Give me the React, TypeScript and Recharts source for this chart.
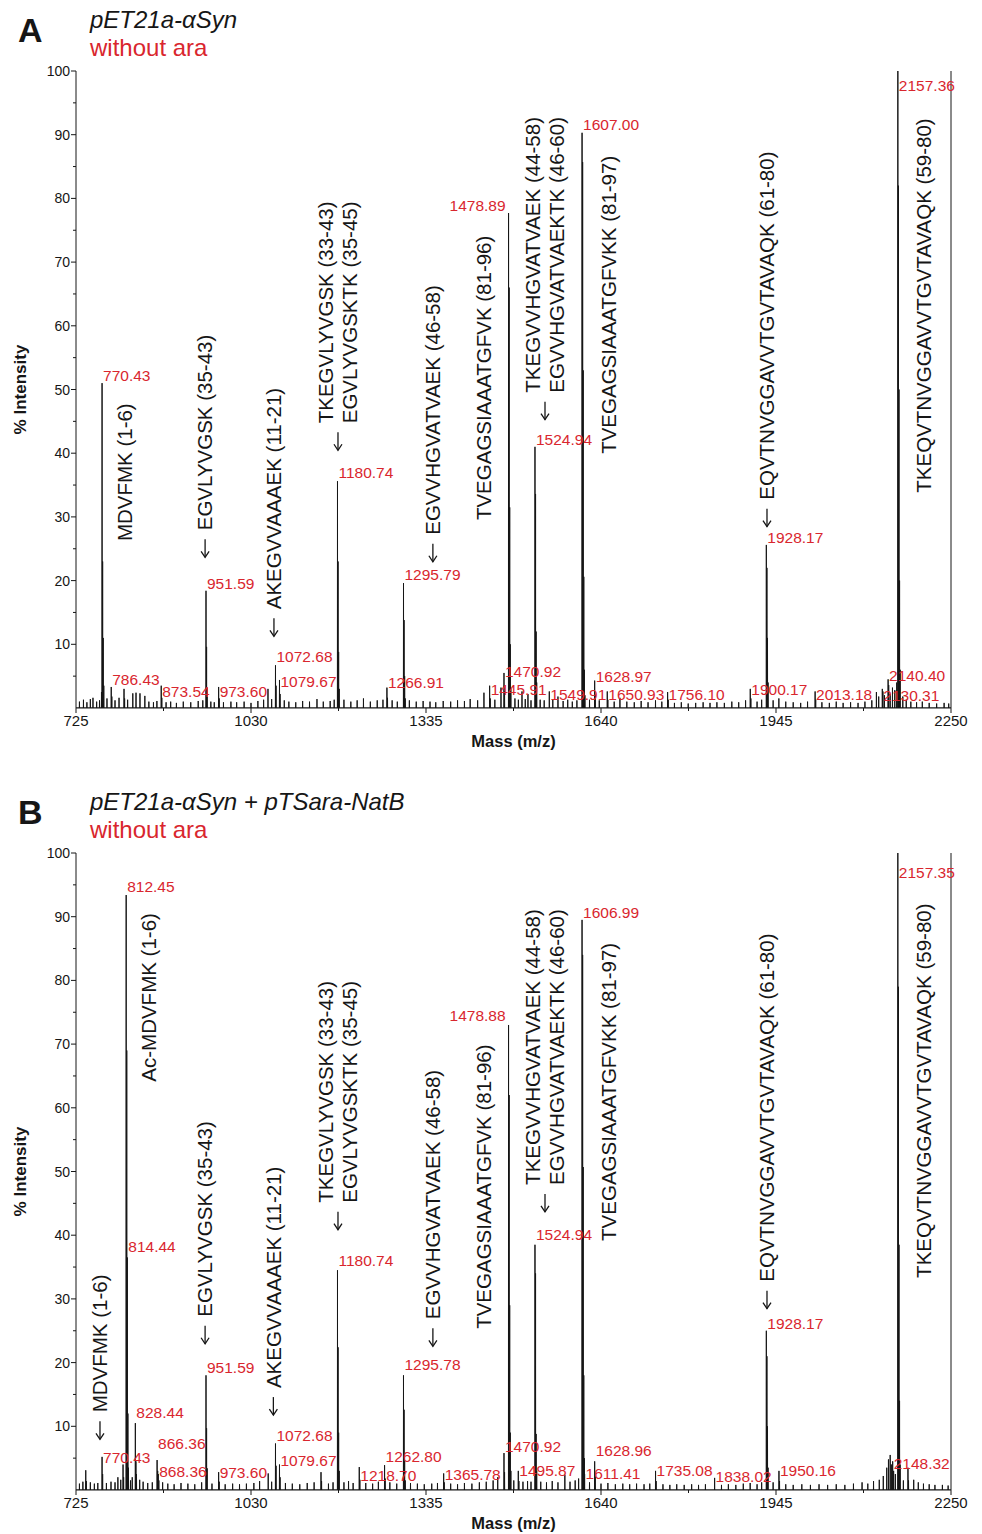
import React from 'react';
import {
  ComposedChart,
  Line,
  XAxis,
  YAxis,
  ReferenceDot,
  ReferenceLine,
  Label,
} from 'recharts';

const FONT = "'Liberation Sans', Arial, Helvetica, sans-serif";
const RED = '#d9262e';
const INK = '#161616';

// x axis: m/z
const mzDomain: [number, number] = [725, 2250];
const mzTicks = [725, 877.5, 1030, 1182.5, 1335, 1487.5, 1640, 1792.5, 1945, 2097.5, 2250];
const mzMajor = [725, 1030, 1335, 1640, 1945, 2250];
// y axis: % intensity
const intTicks = [5, 10, 15, 20, 25, 30, 35, 40, 45, 50, 55, 60, 65, 70, 75, 80, 85, 90, 95, 100];

// panel A: pET21a-aSyn, without ara  -> [m/z, % intensity]
const peaksA: [number, number][] = [
  [731, 1.0], [738, 1.3], [744, 0.9], [750, 1.4], [754.6, 1.6], [761, 1.0], [766, 1.2],
  [769.4, 2.5], [770.43, 51], [771.43, 23], [772.43, 11], [773.44, 3.5],
  [779, 1.5], [786.43, 3.3], [787.43, 1.8], [793, 1.2], [800, 1.6], [808.7, 3.0], [809.7, 1.5],
  [815, 1.3], [824, 2.3], [829.6, 2.4], [836.5, 2.3], [845, 1.9], [852, 1.0], [860, 0.9], [866, 1.1],
  [873.54, 3.5], [874.54, 1.6], [882, 0.9], [890, 1.0], [900, 0.8], [912, 1.0], [925, 0.9], [938, 1.1], [946, 1.2],
  [951.59, 18.4], [952.59, 9.6], [953.59, 3.2],
  [960, 1.0], [966, 0.9], [973.6, 3.3], [974.6, 1.5], [982, 0.9], [995, 1.0], [1005, 0.9], [1018, 1.0],
  [1030, 0.8], [1042, 1.1], [1052, 1.3], [1059.6, 3.0], [1066, 1.4],
  [1072.68, 6.7], [1073.68, 3.5], [1079.67, 4.4], [1080.67, 2.2],
  [1088, 1.2], [1096, 1.0], [1108, 0.9], [1120, 1.1], [1132, 1.0], [1145, 1.4], [1156, 1.0], [1168, 1.1], [1175, 1.3],
  [1180.74, 35.6], [1181.74, 23], [1182.74, 8.8], [1183.74, 3],
  [1192, 1.3], [1204, 1.0], [1215, 1.2], [1226, 1.5], [1238, 1.0], [1250, 1.2], [1260, 1.3],
  [1266.91, 3.2], [1267.91, 1.6], [1276, 1.2], [1285, 1.0],
  [1295.79, 19.6], [1296.79, 13.8], [1297.79, 5], [1298.8, 1.5],
  [1306, 1.2], [1318, 1.0], [1330, 1.1], [1342, 1.0], [1352, 0.9], [1365, 1.1], [1378, 1.0], [1390, 1.2],
  [1402, 1.1], [1412, 1.4], [1425, 1.2], [1436, 2.4], [1445.91, 3.5], [1446.9, 1.5], [1455, 1.3],
  [1465.7, 3.2], [1470.92, 5.5], [1471.92, 2.6],
  [1478.89, 77.7], [1479.89, 66], [1480.89, 31.5], [1481.89, 10], [1482.9, 3],
  [1490, 1.5], [1496, 1.3], [1502.3, 2.6], [1508, 1.4], [1512.7, 2.2], [1518, 1.2],
  [1524.94, 41], [1525.94, 33.6], [1526.94, 12], [1527.94, 4],
  [1534, 1.3], [1541, 1.2], [1549.91, 2.6], [1556, 1.3], [1565, 1.8], [1574, 1.1], [1582, 1.3], [1590, 1.0], [1598, 1.2],
  [1607.0, 90.3], [1608.0, 85.7], [1609.0, 53], [1610.0, 20.6], [1611.0, 6], [1612, 2],
  [1620, 1.3], [1628.97, 4.3], [1629.97, 2], [1637, 1.2], [1650.93, 2.6], [1651.93, 1.3], [1663, 1.0],
  [1673, 1.6], [1685, 1.0], [1698, 0.9], [1710, 1.1], [1722, 0.9], [1735, 1.2], [1746, 1.0],
  [1756.1, 2.5], [1757.1, 1.3], [1768, 0.8], [1780, 0.9], [1792, 0.7], [1805, 0.8], [1818, 0.9], [1830, 0.8],
  [1842, 0.9], [1855, 0.8], [1868, 1.0], [1880, 0.9], [1892, 1.2], [1900.17, 3.0], [1901.17, 1.5], [1912, 1.0], [1920, 1.3],
  [1928.17, 25.6], [1929.17, 22], [1930.17, 11], [1931.17, 4],
  [1940, 1.2], [1950, 1.5], [1962, 1.0], [1975, 0.9], [1988, 0.8], [2000, 1.0], [2013.18, 2.6], [2014.18, 1.3],
  [2025, 0.9], [2038, 0.8], [2050, 1.0], [2062, 0.8], [2075, 0.9], [2088, 0.8], [2100, 1.0], [2112, 1.2],
  [2120, 2.5], [2124, 1.8], [2130.31, 3.0], [2131.31, 2.6], [2134, 2.0], [2140.4, 4.5], [2141.4, 3.6],
  [2144, 2.2], [2148, 3.2], [2152, 2.8], [2155.4, 4],
  [2157.36, 100], [2158.36, 82], [2159.36, 50], [2160.36, 20], [2161.4, 6],
  [2166, 1.8], [2172, 1.3], [2180, 1.0], [2190, 0.9], [2200, 1.0], [2212, 0.8], [2225, 0.7], [2238, 0.8], [2246, 0.7],
];

// panel B: pET21a-aSyn + pTSara-NatB, without ara
const peaksB: [number, number][] = [
  [731, 1.0], [737, 1.3], [742, 3.1], [743, 1.4], [750, 1.2], [757, 1.0], [763, 1.1],
  [770.43, 5.2], [771.43, 2.5], [778, 1.1], [786, 1.3], [793, 1.2], [798, 2.0], [803, 1.6], [807, 4.0], [808, 2.0],
  [812.45, 93.4], [813.45, 69], [814.44, 36.5], [815.44, 12], [816.44, 3.5],
  [820, 1.5], [823, 2.0], [828.44, 10.5], [829.44, 4.5], [830.44, 2.5], [836, 1.6], [842, 1.3], [850, 1.1], [858, 1.2],
  [866.36, 4.7], [867.36, 3.0], [868.36, 2.5], [869.36, 1.5], [876, 1.2], [885, 1.0], [896, 0.9], [908, 1.1],
  [920, 1.0], [932, 0.9], [944, 1.2],
  [951.59, 18], [952.59, 9.7], [953.59, 3.4],
  [962, 1.0], [973.6, 2.8], [974.6, 1.3], [985, 0.9], [998, 1.0], [1010, 0.9], [1022, 1.0], [1035, 1.1],
  [1045, 1.4], [1060, 2.6], [1066, 1.3],
  [1072.68, 7.3], [1073.68, 3.8], [1079.67, 4.0], [1080.67, 2.0],
  [1090, 1.1], [1102, 1.0], [1115, 0.9], [1128, 1.1], [1140, 1.2], [1152, 2.8], [1153, 1.4], [1165, 1.0], [1173, 1.2],
  [1180.74, 34.5], [1181.74, 22.4], [1182.74, 9], [1183.74, 3],
  [1192, 1.2], [1200, 1.4], [1208, 1.1], [1218.7, 3.6], [1219.7, 1.6], [1230, 1.1], [1242, 1.0], [1252, 1.3],
  [1262.8, 3.9], [1263.8, 1.8], [1272, 1.2], [1284, 1.0],
  [1295.78, 18], [1296.78, 12.6], [1297.78, 4.5], [1298.8, 1.5],
  [1308, 1.1], [1320, 1.0], [1332, 0.9], [1345, 1.0], [1355, 1.1], [1365.78, 2.6], [1366.78, 1.2], [1378, 1.0],
  [1390, 0.9], [1402, 1.1], [1415, 1.0], [1428, 1.2], [1440, 1.3], [1452, 1.5], [1460, 2.0],
  [1470.92, 5.8], [1471.92, 2.8],
  [1478.88, 73], [1479.88, 62], [1480.88, 29], [1481.88, 9], [1482.9, 3],
  [1488, 1.5], [1495.87, 3.0], [1496.87, 1.4], [1504, 1.3], [1512, 1.4], [1518, 1.3],
  [1524.94, 38.5], [1525.94, 34], [1526.94, 8.8], [1527.94, 3],
  [1535, 1.3], [1545, 1.2], [1555, 1.4], [1565, 1.2], [1577, 2.4], [1586, 1.3], [1595, 1.5], [1601, 1.8],
  [1606.99, 89.5], [1607.99, 84], [1608.99, 50.7], [1609.99, 18], [1610.99, 5], [1611.41, 2.5],
  [1620, 1.2], [1628.96, 4.5], [1629.96, 2.1], [1640, 1.0], [1652, 1.1], [1665, 0.9], [1678, 1.0], [1690, 0.9],
  [1702, 1.0], [1715, 0.9], [1725, 1.0], [1735.08, 3.0], [1736.08, 1.4], [1748, 0.9], [1760, 0.8], [1772, 0.9],
  [1785, 0.8], [1798, 0.9], [1810, 0.8], [1822, 0.9], [1838.02, 1.9], [1850, 0.8], [1862, 0.9], [1875, 0.8],
  [1888, 1.0], [1900, 1.1], [1912, 0.9], [1920, 1.2],
  [1928.17, 25], [1929.17, 21], [1930.17, 10], [1931.17, 3.5],
  [1940, 1.2], [1950.16, 3.0], [1951.16, 1.4], [1962, 0.9], [1975, 0.8], [1990, 0.9], [2005, 0.8], [2020, 0.9],
  [2035, 0.8], [2050, 0.9], [2065, 0.8], [2080, 1.0], [2095, 1.2], [2105, 1.0], [2115, 1.4], [2125, 1.6],
  [2132, 2.2], [2138, 3.5], [2141, 4.8], [2144, 5.5], [2146, 4.0], [2148.32, 4.5], [2150, 3.0], [2153, 2.5],
  [2157.35, 100], [2158.35, 79], [2159.35, 38.5], [2160.35, 14], [2161.4, 4],
  [2167, 1.5], [2175, 3.5], [2176, 1.5], [2185, 1.6], [2193, 1.2], [2202, 1.0], [2212, 0.9], [2222, 0.8],
  [2235, 0.8], [2245, 0.7],
];

// red m/z labels: text, baseline level, and whether the text sits left of its peak
const mzLabelsA = [
  { text: '770.43', level: 51.3 }, { text: '786.43', level: 3.6 }, { text: '873.54', level: 1.7 },
  { text: '951.59', level: 18.7 }, { text: '973.60', level: 1.7 }, { text: '1072.68', level: 7.2 },
  { text: '1079.67', level: 3.3 }, { text: '1180.74', level: 36.1 }, { text: '1266.91', level: 3.1 },
  { text: '1295.79', level: 20.1 }, { text: '1445.91', level: 2.0 }, { text: '1470.92', level: 4.9 },
  { text: '1478.89', level: 78.0, left: true }, { text: '1524.94', level: 41.3 }, { text: '1549.91', level: 1.3 },
  { text: '1607.00', level: 90.7 }, { text: '1628.97', level: 4.1 }, { text: '1650.93', level: 1.3 },
  { text: '1756.10', level: 1.3 }, { text: '1900.17', level: 2.0 }, { text: '1928.17', level: 25.9 },
  { text: '2013.18', level: 1.3 }, { text: '2130.31', level: 1.1 }, { text: '2140.40', level: 4.2 },
  { text: '2157.36', level: 96.8 },
];

const mzLabelsB = [
  { text: '770.43', level: 4.2 }, { text: '812.45', level: 93.9 }, { text: '814.44', level: 37.4 },
  { text: '828.44', level: 11.3 }, { text: '866.36', level: 6.4 }, { text: '868.36', level: 2.0 },
  { text: '951.59', level: 18.4 }, { text: '973.60', level: 1.9 }, { text: '1072.68', level: 7.7 },
  { text: '1079.67', level: 3.8 }, { text: '1180.74', level: 35.2 }, { text: '1218.70', level: 1.4 },
  { text: '1262.80', level: 4.4 }, { text: '1295.78', level: 18.8 }, { text: '1365.78', level: 1.6 },
  { text: '1470.92', level: 6.0 }, { text: '1478.88', level: 73.6, left: true }, { text: '1495.87', level: 2.2 },
  { text: '1524.94', level: 39.2 }, { text: '1606.99', level: 89.8 }, { text: '1611.41', level: 1.7 },
  { text: '1628.96', level: 5.3 }, { text: '1735.08', level: 2.2 }, { text: '1838.02', level: 1.3 },
  { text: '1928.17', level: 25.3 }, { text: '1950.16', level: 2.2 }, { text: '2148.32', level: 3.3 },
  { text: '2157.35', level: 96.1 },
];

// peptide assignments: rotated text, anchored at (m/z, intensity) of the text foot
const peptidesA = [
  { lines: ['MDVFMK (1-6)'], mz: 810, at: 26.2, arrow: false },
  { lines: ['EGVLYVGSK (35-43)'], mz: 950, at: 27.9, arrow: true },
  { lines: ['AKEGVVAAAEK (11-21)'], mz: 1070, at: 15.5, arrow: true },
  { lines: ['TKEGVLYVGSK (33-43)', 'EGVLYVGSKTK (35-45)'], mz: 1181.6, at: 44.7, arrow: true },
  { lines: ['EGVVHGVATVAEK (46-58)'], mz: 1347, at: 27.2, arrow: true },
  { lines: ['TVEGAGSIAAATGFVK (81-96)'], mz: 1436, at: 29.5, arrow: false },
  { lines: ['TKEGVVHGVATVAEK (44-58)', 'EGVVHGVATVAEKTK (46-60)'], mz: 1542.4, at: 49.5, arrow: true },
  { lines: ['TVEGAGSIAAATGFVKK (81-97)'], mz: 1654, at: 39.9, arrow: false },
  { lines: ['EQVTNVGGAVVTGVTAVAQK (61-80)'], mz: 1929.3, at: 32.7, arrow: true },
  { lines: ['TKEQVTNVGGAVVTGVTAVAQK (59-80)'], mz: 2203, at: 33.8, arrow: false },
];

const peptidesB = [
  { lines: ['MDVFMK (1-6)'], mz: 766.8, at: 12.2, arrow: true },
  { lines: ['Ac-MDVFMK (1-6)'], mz: 852.2, at: 64.1, arrow: false },
  { lines: ['EGVLYVGSK (35-43)'], mz: 950, at: 27.2, arrow: true },
  { lines: ['AKEGVVAAAEK (11-21)'], mz: 1069, at: 16.0, arrow: true },
  { lines: ['TKEGVLYVGSK (33-43)', 'EGVLYVGSKTK (35-45)'], mz: 1181.6, at: 45.1, arrow: true },
  { lines: ['EGVVHGVATVAEK (46-58)'], mz: 1347, at: 26.8, arrow: true },
  { lines: ['TVEGAGSIAAATGFVK (81-96)'], mz: 1436, at: 25.3, arrow: false },
  { lines: ['TKEGVVHGVATVAEK (44-58)', 'EGVVHGVATVAEKTK (46-60)'], mz: 1542.4, at: 47.9, arrow: true },
  { lines: ['TVEGAGSIAAATGFVKK (81-97)'], mz: 1654, at: 39.1, arrow: false },
  { lines: ['EQVTNVGGAVVTGVTAVAQK (61-80)'], mz: 1929.3, at: 32.7, arrow: true },
  { lines: ['TKEQVTNVGGAVVTGVTAVAQK (59-80)'], mz: 2203, at: 33.3, arrow: false },
];

// stick spectrum -> points for a Line (each peak goes 0 -> h -> 0)
function toSpectrum(peaks: [number, number][]) {
  const sorted = [...peaks].sort((a, b) => a[0] - b[0]);
  const pts: { mz: number; i: number }[] = [{ mz: mzDomain[0], i: 0 }];
  sorted.forEach(([m, h]) => {
    pts.push({ mz: m - 0.2, i: 0 }, { mz: m, i: h }, { mz: m + 0.2, i: 0 });
  });
  pts.push({ mz: mzDomain[1], i: 0 });
  return pts;
}

const YTick = (p: any) => {
  const v = p.payload.value;
  const ax = p.x + 6; // tickSize 5 + tickMargin 1
  const major = v % 10 === 0;
  return (
    <g>
      <line x1={ax - (major ? 5 : 3)} x2={ax} y1={p.y} y2={p.y} stroke={INK} strokeWidth={1} />
      {major && (
        <text x={p.x} y={p.y} dy="0.36em" textAnchor="end" fontFamily={FONT} fontSize={14} fill={INK}>
          {v}
        </text>
      )}
    </g>
  );
};

const XTick = (p: any) => {
  const v = p.payload.value;
  const ay = p.y - 7; // tickSize 5 + tickMargin 2
  const major = mzMajor.includes(v);
  return (
    <g>
      <line x1={p.x} x2={p.x} y1={ay} y2={ay + (major ? 5 : 3)} stroke={INK} strokeWidth={1} />
      {major && (
        <text x={p.x} y={p.y} dy="0.71em" textAnchor="middle" fontFamily={FONT} fontSize={15} fill={INK}>
          {v}
        </text>
      )}
    </g>
  );
};

const PeptideMark = ({ cx, cy, lines, arrow }: any) => {
  const gap = 24;
  const a0 = cy + 9;
  const a1 = cy + 27;
  return (
    <g fontFamily={FONT} fontSize={20.5} fill={INK}>
      {lines.map((t: string, k: number) => {
        const colX = cx + (k - (lines.length - 1) / 2) * gap + 7.3;
        return (
          <text key={k} x={colX} y={cy} transform={`rotate(-90 ${colX} ${cy})`}>
            {t}
          </text>
        );
      })}
      {arrow && (
        <g stroke={INK} strokeWidth={1.3} fill="none">
          <line x1={cx} x2={cx} y1={a0} y2={a1} />
          <polyline points={`${cx - 4},${a1 - 6} ${cx},${a1} ${cx + 4},${a1 - 6}`} />
        </g>
      )}
    </g>
  );
};

type PanelProps = {
  top: number;
  letter: string;
  title: string;
  peaks: [number, number][];
  mzLabels: { text: string; level: number; left?: boolean }[];
  peptides: { lines: string[]; mz: number; at: number; arrow: boolean }[];
};

function Panel({ top, letter, title, peaks, mzLabels, peptides }: PanelProps) {
  const data = toSpectrum(peaks);
  return (
    <div style={{ position: 'absolute', top, left: 0, width: 982, height: 770 }}>
      <ComposedChart
        width={982}
        height={770}
        data={data}
        margin={{ top: 71, right: 31, left: 16, bottom: 12 }}
      >
        <XAxis
          type="number"
          dataKey="mz"
          domain={mzDomain}
          ticks={mzTicks}
          allowDataOverflow
          interval={0}
          height={50}
          tickSize={5}
          tickMargin={2}
          tickLine={false}
          axisLine={{ stroke: INK }}
          tick={<XTick />}
        >
          <Label
            content={(p: any) => (
              <text
                x={p.viewBox.x + p.viewBox.width / 2}
                y={p.viewBox.y + 39}
                textAnchor="middle"
                fontFamily={FONT}
                fontWeight="bold"
                fontSize={16.5}
                fill={INK}
              >
                Mass (m/z)
              </text>
            )}
          />
        </XAxis>
        <YAxis
          type="number"
          domain={[0, 100]}
          ticks={intTicks}
          allowDataOverflow
          interval={0}
          width={60}
          tickSize={5}
          tickMargin={1}
          tickLine={false}
          axisLine={{ stroke: INK }}
          tick={<YTick />}
        >
          <Label
            content={(p: any) => {
              const x = p.viewBox.x + 10;
              const y = p.viewBox.y + p.viewBox.height / 2;
              return (
                <text
                  x={x}
                  y={y}
                  textAnchor="middle"
                  transform={`rotate(-90 ${x} ${y})`}
                  fontFamily={FONT}
                  fontWeight="bold"
                  fontSize={17}
                  fill={INK}
                >
                  % Intensity
                </text>
              );
            }}
          />
        </YAxis>
        <ReferenceLine x={2250} stroke={INK} strokeWidth={1} ifOverflow="visible" />
        <Line
          type="linear"
          dataKey="i"
          stroke={INK}
          strokeWidth={1}
          dot={false}
          activeDot={false}
          isAnimationActive={false}
        />
        {mzLabels.map((l) => (
          <ReferenceDot
            key={l.text}
            x={parseFloat(l.text)}
            y={l.level}
            r={0}
            ifOverflow="visible"
            shape={(p: any) => (
              <text
                x={l.left ? p.cx - 3 : p.cx + 1}
                y={p.cy}
                textAnchor={l.left ? 'end' : 'start'}
                fontFamily={FONT}
                fontSize={15.5}
                fill={RED}
              >
                {l.text}
              </text>
            )}
          />
        ))}
        {peptides.map((pp) => (
          <ReferenceDot
            key={pp.lines.join('|')}
            x={pp.mz}
            y={pp.at}
            r={0}
            ifOverflow="visible"
            shape={(p: any) => <PeptideMark cx={p.cx} cy={p.cy} lines={pp.lines} arrow={pp.arrow} />}
          />
        ))}
      </ComposedChart>
      <svg
        width={982}
        height={70}
        style={{ position: 'absolute', top: 0, left: 0, pointerEvents: 'none' }}
      >
        <text x={18} y={42} fontFamily={FONT} fontWeight="bold" fontSize={34} fill={INK}>
          {letter}
        </text>
        <text x={90} y={28} fontFamily={FONT} fontStyle="italic" fontSize={24} fill={INK}>
          {title}
        </text>
        <text x={90} y={56} fontFamily={FONT} fontSize={24} fill={RED}>
          without ara
        </text>
      </svg>
    </div>
  );
}

export default function App() {
  return (
    <div
      style={{
        position: 'absolute',
        top: 0,
        left: 0,
        width: 982,
        height: 1534,
        overflow: 'hidden',
        background: '#fff',
      }}
    >
      <Panel
        top={0}
        letter="A"
        title="pET21a-αSyn"
        peaks={peaksA}
        mzLabels={mzLabelsA}
        peptides={peptidesA}
      />
      <Panel
        top={782}
        letter="B"
        title="pET21a-αSyn + pTSara-NatB"
        peaks={peaksB}
        mzLabels={mzLabelsB}
        peptides={peptidesB}
      />
    </div>
  );
}
